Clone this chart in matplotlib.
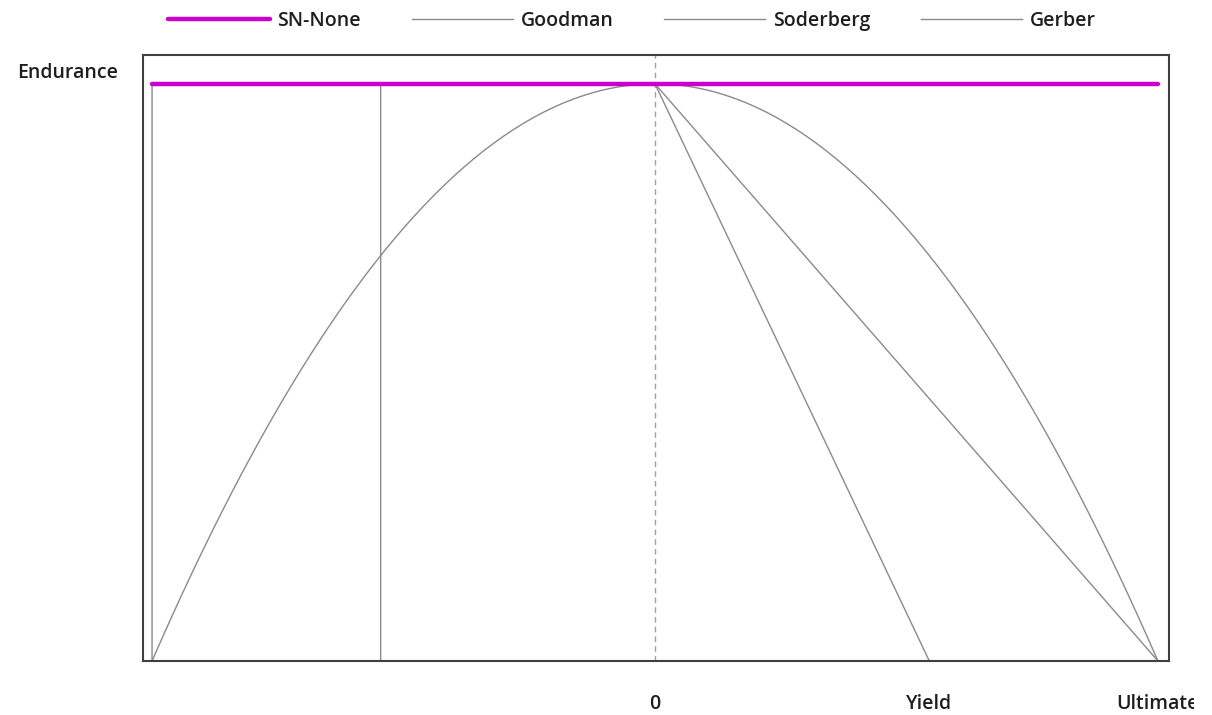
import numpy as np
import matplotlib
matplotlib.use("Agg")
import matplotlib.pyplot as plt
from matplotlib.transforms import Bbox, TransformedBbox

plt.rcParams['font.family'] = ['Open Sans', 'DejaVu Sans']

# Material strengths (same units)
endurance = 250.0
yield_strength = 300.0
ultimate = 550.0

tick_values = [0.0, yield_strength, ultimate]
tick_labels = ["0", "Yield", "Ultimate"]
series_names = ["SN-None", "Goodman", "Soderberg", "Gerber"]

# Mean-stress criteria as (mean, alternating) vertices
sn_mean = [-ultimate, ultimate]
sn_alt = [endurance, endurance]
goodman_mean = [-ultimate, -ultimate, 0.0, ultimate]
goodman_alt = [0.0, endurance, endurance, 0.0]
soderberg_mean = [-yield_strength, -yield_strength, 0.0, yield_strength]
soderberg_alt = [0.0, endurance, endurance, 0.0]
gerber_mean = np.linspace(-ultimate, ultimate, 201)
gerber_alt = endurance * (1.0 - (gerber_mean / ultimate) ** 2)

grey = "#8a8a8a"
magenta = "#cc00cc"
text_color = "#1e1e1e"
fs = 14.0
fw = "semibold"

fig = plt.figure(figsize=(12.12, 7.15), dpi=100)
ax = fig.add_axes([143 / 1212, 1 - 661 / 715, (1169 - 143) / 1212, (661 - 55) / 715])

ax.axvline(0.0, color="#a0a0a0", lw=1.0, ls=(0, (4, 3)), zorder=1)
l_good, = ax.plot(goodman_mean, goodman_alt, color=grey, lw=1.0, zorder=2)
l_sod, = ax.plot(soderberg_mean, soderberg_alt, color=grey, lw=1.0, zorder=2)
l_ger, = ax.plot(gerber_mean, gerber_alt, color=grey, lw=1.0, zorder=2)
l_sn, = ax.plot(sn_mean, sn_alt, color=magenta, lw=3.2, solid_capstyle="round", zorder=3)

ax.set_xlim(-1.018 * ultimate, 1.022 * ultimate)
ax.set_ylim(0.0, 1.050 * endurance)

ax.set_xticks(tick_values)
ax.set_xticklabels(tick_labels, fontweight=fw)
ax.set_yticks([])
ax.tick_params(axis="x", length=0, pad=24, labelsize=fs, labelcolor=text_color)
clip = TransformedBbox(Bbox([[0, 0], [1194 / 1212, 1]]), fig.transFigure)
for lab in ax.get_xticklabels():
    lab.set_clip_box(clip)
    lab.set_clip_on(True)

ax.annotate("Endurance", xy=(0, endurance), xycoords=("axes fraction", "data"),
            xytext=(-25, 11), textcoords="offset pixels", ha="right", va="center",
            fontsize=fs, fontweight=fw, color=text_color)

for s in ax.spines.values():
    s.set_color("#404040")
    s.set_linewidth(1.5)

leg = fig.legend([l_sn, l_good, l_sod, l_ger], series_names, loc="center",
                 bbox_to_anchor=(632 / 1212, 1 - 21 / 715), ncol=4, frameon=False,
                 handlelength=5.2, handletextpad=0.4, columnspacing=2.6,
                 prop={"size": fs, "weight": fw}, labelcolor=text_color)

fig.savefig("out.png", dpi=100)
